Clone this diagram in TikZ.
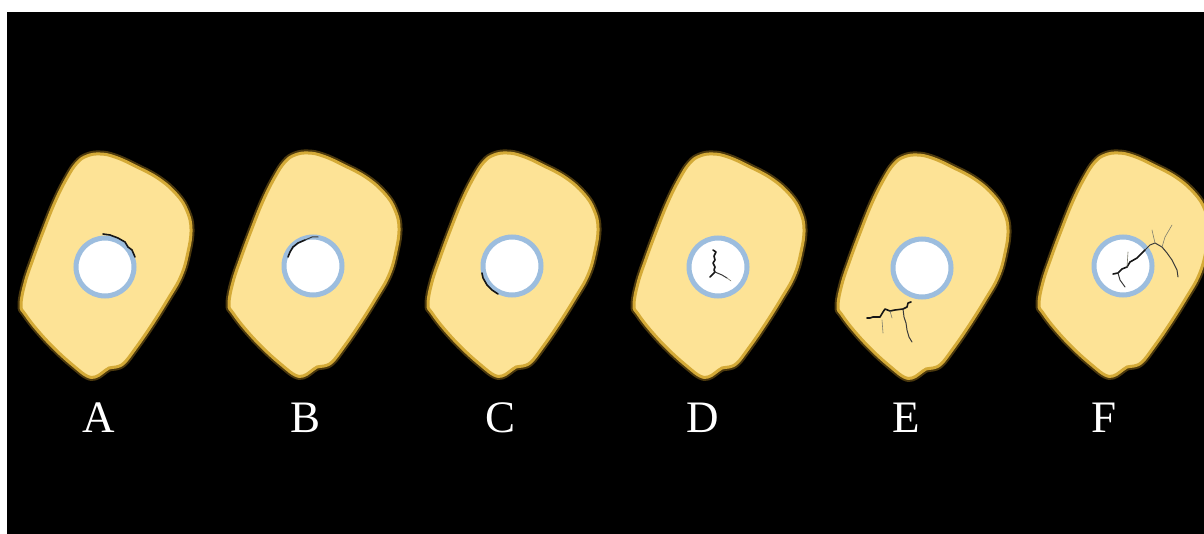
\documentclass[tikz,border=0pt]{standalone}
\usepackage{fontspec}
\setmainfont{Liberation Serif}

\definecolor{cellfill}{RGB}{253,227,150}
\definecolor{cellrim}{RGB}{212,170,55}
\definecolor{cellhalo}{RGB}{140,105,25}
\definecolor{ringblue}{RGB}{156,189,222}
\definecolor{crack}{RGB}{22,22,22}
\definecolor{hairline}{RGB}{125,125,110}

\tikzset{
  cellglow/.style={draw=cellhalo, line width=7pt, opacity=0.55, line join=round},
  cellbody/.style={fill=cellfill, draw=cellrim, line width=3pt, line join=round},
  pore/.style={fill=white, draw=ringblue, line width=5pt},
  fissure/.style={draw=crack, line width=1.6pt, line join=round, line cap=round},
  thinfissure/.style={draw=crack!85!white, line width=1pt, line join=round, line cap=round},
  fine/.style={draw=hairline, line width=0.6pt, line cap=round},
  lbl/.style={text=white, font=\fontsize{45}{45}\selectfont, anchor=base, inner sep=0pt},
  % one cell: tilted rounded body with a ringed pore at its centre
  pics/cell/.style={code={
    \def\outline{plot[smooth cycle, tension=0.7] coordinates {
      (-18,-111) (-5,-113) (10,-110) (30,-101) (54,-88) (72,-72) (82,-56)
      (86,-38) (83,-15) (76,9) (63,32) (46,59) (30,82) (19,96) (11,100)
      (4,101) (-3,106) (-10,110) (-18,109) (-30,100) (-48,84) (-66,65)
      (-80,47) (-84,38) (-80,16) (-72,-8) (-62,-35) (-50,-65) (-38,-89)
      (-28,-104)}}
    \path[cellglow] \outline;
    \path[cellbody] \outline;
    \draw[pore] (0,0) circle[radius=29];
  }},
}

\begin{document}
\begin{tikzpicture}[x=1pt,y=-1pt]
  \useasboundingbox (0,0) rectangle (1204,534);
  \fill[white] (0,0) rectangle (1204,534);
  \begin{scope}
    \clip (7,12) rectangle (1204,534);
    \fill[black] (7,12) rectangle (1204,534);

    \pic at (105,267) {cell};
    \pic at (313,266) {cell};
    \pic at (512,266) {cell};
    \pic at (718,267) {cell};
    \pic at (922,268) {cell};
    \pic at (1123,266) {cell};

    % A: tear along the outer rim, upper right
    \draw[fissure] (103,234) -- (110,235) -- (118,238) -- (125,242) -- (128,247)
      -- (132,250) -- (135,257);
    % B: tear along the inner rim, upper left
    \draw[fissure] (288,257) -- (290,252) -- (293,247) -- (298,243) -- (305,240);
    \draw[thinfissure] (305,240) -- (312,237) -- (318,237);
    % C: tear along the inner rim, lower left
    \draw[fissure] (482,273) -- (483,278) -- (487,285) -- (492,290) -- (498,294);
    % D: crack inside the pore
    \draw[fissure] (713,250) -- (716,252) -- (714,256) -- (715,260) -- (713,263)
      -- (715,267) -- (714,270) -- (715,272) -- (710,277);
    \draw[thinfissure] (715,272) -- (722,275) -- (727,278);
    \draw[fine] (727,278) -- (731,281);
    % E: crack running from the pore into the body
    \draw[fissure] (911,302) -- (908,303) -- (907,307) -- (903,309) -- (895,310)
      -- (890,311) -- (885,309) -- (883,312) -- (880,317) -- (877,317)
      -- (873,317) -- (870,318) -- (867,318);
    \draw[thinfissure] (903,309) -- (904,317) -- (906,323) -- (907,330)
      -- (909,337) -- (912,342);
    \draw[fine] (882,320) -- (883,333);
    \draw[fine] (890,311) -- (892,318);
    % F: crack crossing the pore and branching into the body
    \draw[fissure] (1113,274) -- (1118,273) -- (1122,269) -- (1127,267)
      -- (1130,262) -- (1137,258) -- (1140,255) -- (1145,250);
    \draw[thinfissure] (1145,250) -- (1150,245) -- (1155,243) -- (1162,247)
      -- (1167,253) -- (1172,260) -- (1177,270) -- (1178,277);
    \draw[thinfissure] (1118,273) -- (1120,280) -- (1125,287);
    \draw[fine] (1162,247) -- (1165,237) -- (1172,225);
    \draw[fine] (1155,243) -- (1152,230);
    \draw[fine] (1127,267) -- (1128,252);
  \end{scope}

  \node[lbl] (labelA) at (99,432) {A};
  \node[lbl] (labelB) at (306,432) {B};
  \node[lbl] (labelC) at (501,432) {C};
  \node[lbl] (labelD) at (703,432) {D};
  \node[lbl] (labelE) at (906,432) {E};
  \node[lbl] (labelF) at (1104,432) {F};
\end{tikzpicture}
\end{document}
